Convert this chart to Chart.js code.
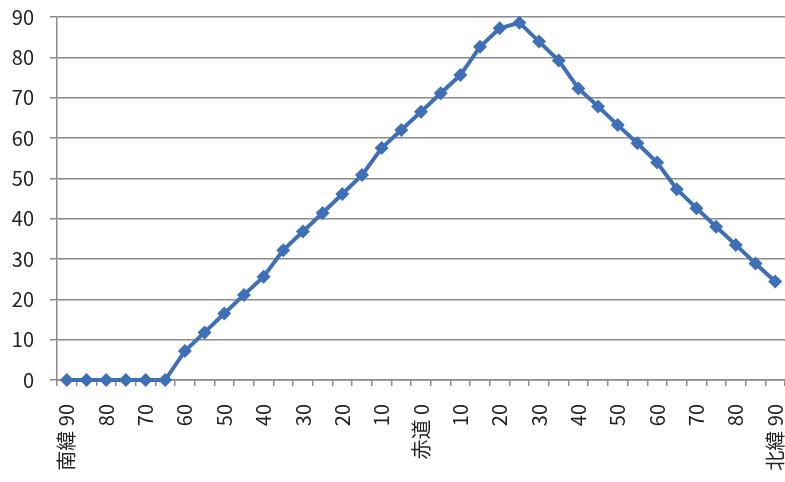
<!DOCTYPE html>
<html>
<head>
<meta charset="utf-8">
<script src="https://cdn.jsdelivr.net/npm/chart.js@4/dist/chart.umd.min.js"></script>
<style>
  html, body { margin: 0; padding: 0; background: #fff; overflow: hidden; }
  #wrap { width: 785px; height: 482px; position: relative; }
</style>
</head>
<body>
<div id="wrap"><canvas id="c"></canvas></div>
<script>
// Latitude categories every 5 degrees, labelled every 10 degrees
const latitudeLabels = [
  '南緯 90', '', '80', '', '70', '', '60', '', '50', '', '40', '', '30', '', '20', '', '10', '',
  '赤道 0', '', '10', '', '20', '', '30', '', '40', '', '50', '', '60', '', '70', '', '80', '',
  '北緯 90'
];

// Solar altitude (degrees) at each latitude
const altitudeValues = [
  0, 0, 0, 0, 0, 0, 7.2, 11.8, 16.5, 21.1, 25.6, 32.2, 36.8, 41.4, 46.1, 50.8, 57.5, 62.0,
  66.5, 71.1, 75.6, 82.6, 87.2, 88.6, 83.9, 79.2, 72.3, 67.8, 63.2, 58.7, 53.9, 47.3, 42.6, 38.0,
  33.5, 28.9, 24.4
];

const yTicks = { min: 0, max: 90, step: 10 };

const gridColor = '#8a8a8a';
const lineColor = '#3f6fb6';
const fontFamily = '"Noto Sans CJK JP", "Open Sans", sans-serif';

// Let the plot run flush to the canvas edges: drop the label overhang padding
function noSidePadding(s) {
  s.paddingLeft = 0;
  s.paddingRight = 0;
}

new Chart(document.getElementById('c'), {
  type: 'line',
  data: {
    labels: latitudeLabels,
    datasets: [{
      data: altitudeValues,
      borderColor: lineColor,
      backgroundColor: lineColor,
      borderWidth: 4,
      pointStyle: 'rectRot',
      pointRadius: 7,
      pointHoverRadius: 7,
      pointBorderWidth: 0,
      tension: 0,
      clip: false
    }]
  },
  options: {
    responsive: true,
    maintainAspectRatio: false,
    animation: false,
    layout: { autoPadding: false, padding: { top: 17, left: 0, right: 0, bottom: 0 } },
    plugins: { legend: { display: false }, tooltip: { enabled: false } },
    scales: {
      x: {
        offset: true,
        grid: {
          offset: true,
          drawOnChartArea: false,
          drawTicks: true,
          tickLength: 6,
          color: gridColor,
          lineWidth: 1.5
        },
        border: { color: gridColor, width: 1.5 },
        ticks: {
          autoSkip: false,
          maxRotation: 90,
          minRotation: 90,
          padding: 18,
          color: '#222',
          font: { family: fontFamily, size: 20 }
        },
        afterFit: s => {
          s.height = 102;
          noSidePadding(s);
        }
      },
      y: {
        min: yTicks.min,
        max: yTicks.max,
        ticks: {
          stepSize: yTicks.step,
          padding: 16,
          color: '#222',
          font: { family: fontFamily, size: 20 }
        },
        grid: {
          color: gridColor,
          lineWidth: 1.5,
          tickLength: 7
        },
        border: { color: gridColor, width: 1.5 },
        afterFit: s => {
          s.width = 57;
          s.paddingTop = 0;
          s.paddingBottom = 0;
        }
      }
    }
  }
});
</script>
</body>
</html>
